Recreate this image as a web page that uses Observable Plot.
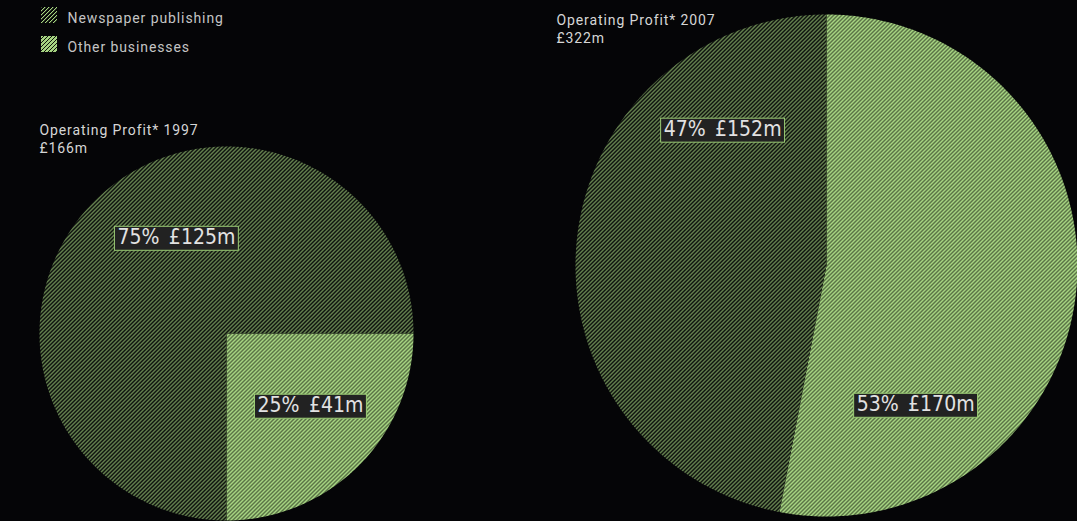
<!DOCTYPE html>
<html><head><meta charset="utf-8">
<script src="https://cdn.jsdelivr.net/npm/d3@7"></script>
<script src="https://cdn.jsdelivr.net/npm/@observablehq/plot@0.6"></script>
<style>
html,body{margin:0;padding:0;background:#050507;overflow:hidden;}
#chart{width:1077px;height:521px;overflow:hidden;position:relative;}
.small-text text{font-family:Roboto,"DejaVu Sans",sans-serif;letter-spacing:0.9px;}
.pie-label text{font-family:"Liberation Sans Narrow","DejaVu Sans Condensed",sans-serif;letter-spacing:0px;}
</style></head><body>
<svg width="0" height="0" style="position:absolute">
  <defs>
    <pattern id="hatchNews" patternUnits="userSpaceOnUse" width="4" height="4">
      <g shape-rendering="crispEdges">
        <rect width="4" height="4" fill="#050507"/>
        <rect x="0" y="3" width="1" height="1" fill="#a6d482"/>
        <rect x="1" y="2" width="1" height="1" fill="#a6d482"/>
        <rect x="2" y="1" width="1" height="1" fill="#a6d482"/>
        <rect x="3" y="0" width="1" height="1" fill="#a6d482"/>
        <rect x="1" y="3" width="1" height="1" fill="#36472a"/>
        <rect x="2" y="2" width="1" height="1" fill="#36472a"/>
        <rect x="3" y="1" width="1" height="1" fill="#36472a"/>
        <rect x="0" y="0" width="1" height="1" fill="#36472a"/>
      </g>
    </pattern>
    <pattern id="hatchOther" patternUnits="userSpaceOnUse" width="4" height="4">
      <g shape-rendering="crispEdges">
        <rect width="4" height="4" fill="#a6d482"/>
        <rect x="0" y="3" width="1" height="1" fill="#10140c"/>
        <rect x="1" y="2" width="1" height="1" fill="#10140c"/>
        <rect x="2" y="1" width="1" height="1" fill="#10140c"/>
        <rect x="3" y="0" width="1" height="1" fill="#10140c"/>
      </g>
    </pattern>
  </defs>
</svg>
<div id="chart"></div>
<script>
// ---- data ----
const categories = ["Newspaper publishing", "Other businesses"];
const years = ["1997", "2007"];
const totals = [166, 322];
const newspaperProfit = [125, 152];
const otherProfit = [41, 170];
const newspaperShare = [75, 47];
const otherShare = [25, 53];

// ---- layout (pixel space) ----
const W = 1077, H = 521;
const pieLayout = [
  {cx: 226, cy: 333, r: 187, start: 90},
  {cx: 826, cy: 265, r: 251, start: 0}
];
// label anchors as fractions of radius from pie centre: [newspaper, other]
const labelOffsets = [
  [[-0.268, -0.513], [0.449, 0.385]],
  [[-0.414, -0.542], [0.355, 0.554]]
];
const titlePos = [{x: 39, y: 134}, {x: 556, y: 24}];

// ---- build slice polygons from the shares ----
const slicePoints = [];
const labels = [];
years.forEach((yr, i) => {
  const L = pieLayout[i];
  const order = [
    {cat: categories[1], share: otherShare[i], profit: otherProfit[i], off: labelOffsets[i][1]},
    {cat: categories[0], share: newspaperShare[i], profit: newspaperProfit[i], off: labelOffsets[i][0]}
  ];
  let a0 = L.start;
  order.forEach(s => {
    const a1 = a0 + s.share / 100 * 360;
    const key = yr + "-" + s.cat;
    slicePoints.push({key, cat: s.cat, x: L.cx, y: L.cy});
    const n = Math.ceil((a1 - a0) / 0.5);
    for (let k = 0; k <= n; k++) {
      const a = (a0 + (a1 - a0) * k / n) * Math.PI / 180;
      slicePoints.push({key, cat: s.cat, x: L.cx + L.r * Math.sin(a), y: L.cy - L.r * Math.cos(a)});
    }
    labels.push({
      x: L.cx + s.off[0] * L.r,
      y: L.cy + s.off[1] * L.r,
      text: `${s.share}%\u2002£${s.profit}m`
    });
    a0 = a1;
  });
});

const titles = [];
years.forEach((yr, i) => {
  titles.push({x: titlePos[i].x, y: titlePos[i].y, text: `Operating Profit* ${yr}`});
  titles.push({x: titlePos[i].x, y: titlePos[i].y + 18, text: `£${totals[i]}m`});
});

const legend = categories.map((c, i) => ({cat: c, x1: 41, x2: 57, y1: 7 + i * 29, y2: 23 + i * 29, tx: 67, ty: 22 + i * 29}));

const chart = Plot.plot({
  width: W, height: H, margin: 0,
  style: {background: "#050507", overflow: "hidden"},
  x: {domain: [0, W], range: [0, W], axis: null},
  y: {domain: [0, H], range: [0, H], axis: null},
  color: {domain: categories, range: ["url(#hatchNews)", "url(#hatchOther)"]},
  marks: [
    Plot.line(slicePoints, {x: "x", y: "y", z: "key", fill: "cat", stroke: null, curve: "linear"}),
    Plot.text(labels, {x: "x", y: "y", text: "text", fill: "#e2e2e2", fontSize: 21, className: "pie-label"}),
    Plot.rect(legend, {x1: "x1", x2: "x2", y1: "y1", y2: "y2", fill: "cat"}),
    Plot.text(legend, {x: "tx", y: "ty", text: "cat", textAnchor: "start", lineAnchor: "bottom", fill: "#c4c4c4", fontSize: 14, className: "small-text"}),
    Plot.text(titles, {x: "x", y: "y", text: "text", textAnchor: "start", lineAnchor: "bottom", fill: "#d6d6d6", fontSize: 14, className: "small-text"})
  ]
});
document.getElementById("chart").appendChild(chart);

// boxes behind the value labels
chart.querySelectorAll("g.pie-label text").forEach(t => {
  const b = t.getBBox();
  const r = document.createElementNS("http://www.w3.org/2000/svg", "rect");
  r.setAttribute("x", b.x - 3);
  r.setAttribute("y", b.y + 1);
  r.setAttribute("width", b.width + 6);
  r.setAttribute("height", b.height);
  r.setAttribute("fill", "#222222");
  r.setAttribute("stroke", "#9acb74");
  r.setAttribute("stroke-width", "1");
  const tr = t.getAttribute("transform");
  if (tr) r.setAttribute("transform", tr);
  t.parentNode.insertBefore(r, t);
});
</script>
</body></html>
